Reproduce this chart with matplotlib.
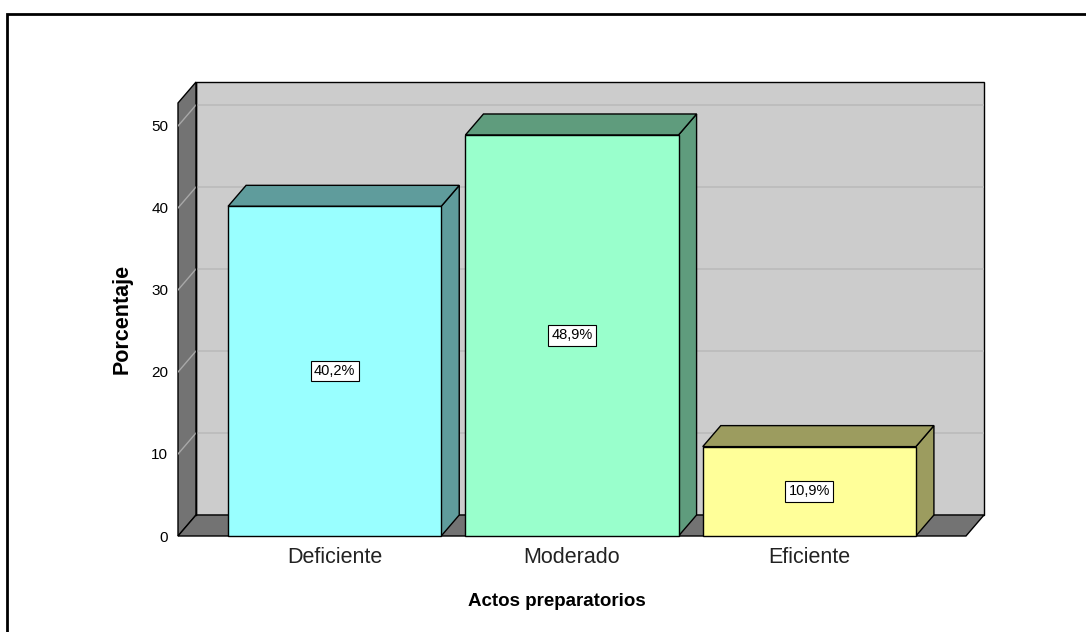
import matplotlib
matplotlib.use("Agg")
import matplotlib.pyplot as plt
from matplotlib.patches import Polygon, Rectangle

plt.rcParams['font.family'] = ['Liberation Sans', 'DejaVu Sans']

# data
categories = ['Deficiente', 'Moderado', 'Eficiente']
values = [40.2, 48.9, 10.9]
yticks = [0, 10, 20, 30, 40, 50]

front_colors = ['#99ffff', '#99ffcc', '#ffff99']
side_colors = ['#5f9c9c', '#5f9c7d', '#9c9c5f']

# 3D geometry (data units)
dx, dy = 0.076, 2.56
bw = 0.898
x0, x1 = -0.66, 2.66
ytop = 52.8

fig = plt.figure(figsize=(10.86, 6.32), dpi=100)
ax = fig.add_axes([178/1086, 96/632, 806/1086, 454/632])
ax.set_xlim(x0, x1 + dx)
ax.set_ylim(0, ytop + dy)
for s in ax.spines.values():
    s.set_visible(False)

wall = '#737373'
edge = dict(edgecolor='black', linewidth=1.0, clip_on=False)

# back wall
ax.add_patch(Rectangle((x0 + dx, dy), x1 - x0, ytop, facecolor='#cccccc', **edge, zorder=1))
# left wall
ax.add_patch(Polygon([(x0, 0), (x0 + dx, dy), (x0 + dx, ytop + dy), (x0, ytop)],
                     facecolor=wall, **edge, zorder=2))
# floor
ax.add_patch(Polygon([(x0, 0), (x1, 0), (x1 + dx, dy), (x0 + dx, dy)],
                     facecolor=wall, **edge, zorder=2))

# gridlines
for v in yticks[1:]:
    ax.plot([x0 + dx, x1 + dx], [v + dy, v + dy], color='#bababa', lw=1.2, zorder=1.5)
    ax.plot([x0, x0 + dx], [v, v + dy], color='#a8a8a8', lw=1.0, zorder=2.5)
# redraw wall edges over gridlines
ax.plot([x0 + dx, x0 + dx], [dy, ytop + dy], color='black', lw=1.0, zorder=2.6)

# bars
for i, (v, fc, sc) in enumerate(zip(values, front_colors, side_colors)):
    l, r = i - bw/2, i + bw/2
    ax.add_patch(Polygon([(r, 0), (r + dx, dy), (r + dx, v + dy), (r, v)],
                         facecolor=sc, **edge, zorder=3))
    ax.add_patch(Polygon([(l, v), (r, v), (r + dx, v + dy), (l + dx, v + dy)],
                         facecolor=sc, **edge, zorder=3))
    ax.add_patch(Rectangle((l, 0), bw, v, facecolor=fc, **edge, zorder=4))
    ax.text(i, v/2, f"{v:.1f}".replace('.', ',') + '%', ha='center', va='center',
            fontsize=10.5, zorder=5,
            bbox=dict(boxstyle='square,pad=0.22', fc='white', ec='black', lw=0.8))

ax.set_yticks(yticks)
ax.set_yticklabels([str(t) for t in yticks], fontsize=11)
ax.set_xticks(range(len(categories)))
ax.set_xticklabels(categories, fontsize=15.5, color='#222222')
ax.tick_params(axis='y', length=0, pad=7)
ax.tick_params(axis='x', length=0, pad=8)

fig.text(557/1086, 1 - 602/632, 'Actos preparatorios', ha='center', va='center',
         fontsize=13.5, fontweight='bold')
fig.text(122/1086, 1 - 319/632, 'Porcentaje', ha='center', va='center',
         rotation=90, fontsize=15.5, fontweight='bold')

# outer frame (cropped at right and bottom)
fig.add_artist(Rectangle((7/1086, -0.1), 1.2, (632 - 14)/632 + 0.1,
                         transform=fig.transFigure, fill=False, ec='black', lw=2))

fig.savefig('out.png', dpi=100)
